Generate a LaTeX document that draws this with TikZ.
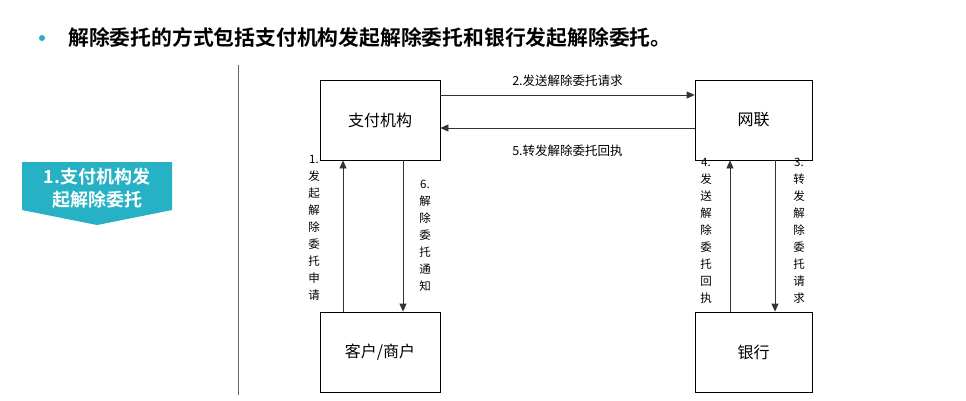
\documentclass[tikz,border=0pt]{standalone}
\usepackage{fontspec}
\setmainfont{Noto Sans CJK SC}[BoldFont={Noto Sans CJK SC Bold}]
\usetikzlibrary{arrows.meta,positioning}
\definecolor{teal}{RGB}{38,178,196}
\tikzset{
  party/.style={draw, thick, minimum width=120pt, minimum height=80pt, font=\fontsize{16}{18}\selectfont},
  flow/.style={draw=black!80, thick, -{Triangle[length=8pt,width=7pt]}},
  lbl/.style={font=\fontsize{12.5}{14}\selectfont},
  vlbl/.style={font=\fontsize{11.5}{17}\selectfont, align=center, inner sep=0pt}
}
\begin{document}
\begin{tikzpicture}[x=1pt,y=-1pt]
  \useasboundingbox (0,0) rectangle (966,400);
  % title
  \fill[teal] (42,38) circle (3);
  \node[anchor=west, inner sep=0pt, font=\fontsize{20.8}{22}\selectfont\bfseries] (title) at (68,38) {解除委托的方式包括支付机构发起解除委托和银行发起解除委托。};
  % badge
  \fill[teal] (22,162) -- (172,162) -- (172,210) -- (97,225) -- (22,210) -- cycle;
  \node[white, align=center, font=\fontsize{18}{23}\selectfont\bfseries] (badge) at (97,188) {1.支付机构发\\起解除委托};
  % divider
  \draw[black!60] (238,65) -- (238,395);
  % boxes
  \node[party] (pay) at (380,120) {支付机构};
  \node[party, minimum width=117pt] (unet) at (753.5,120) {网联};
  \node[party] (cust) at (380,352) {客户/商户};
  \node[party, minimum width=117pt] (bank) at (753.5,352) {银行};
  % horizontal flows
  \draw[flow] (pay.east |- 0,95) -- (unet.west |- 0,95) node[lbl, midway, above=5pt] {2.发送解除委托请求};
  \draw[flow] (unet.west |- 0,128) -- (pay.east |- 0,128) node[lbl, midway, below=13pt] {5.转发解除委托回执};
  % vertical flows
  \draw[flow] (cust.north -| 343,0) -- (pay.south -| 343,0);
  \draw[flow] (pay.south -| 403,0) -- (cust.north -| 403,0);
  \draw[flow] (bank.north -| 730,0) -- (unet.south -| 730,0);
  \draw[flow] (unet.south -| 775,0) -- (bank.north -| 775,0);
  \node[vlbl, anchor=north] (l1) at (314,155) {1.\\发\\起\\解\\除\\委\\托\\申\\请};
  \node[vlbl, anchor=north] (l6) at (425,180) {6.\\解\\除\\委\\托\\通\\知};
  \node[vlbl, anchor=north] (l4) at (706,158) {4.\\发\\送\\解\\除\\委\\托\\回\\执};
  \node[vlbl, anchor=north] (l3) at (799,158) {3.\\转\\发\\解\\除\\委\\托\\请\\求};
\end{tikzpicture}
\end{document}
